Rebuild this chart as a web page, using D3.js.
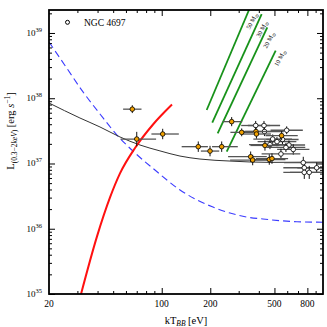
<!DOCTYPE html>
<html>
<head>
<meta charset="utf-8">
<script src="https://cdn.jsdelivr.net/npm/d3@7"></script>
<style>
  body { margin: 0; background: #fff; }
  svg text { font-family: "Liberation Serif", "DejaVu Serif", serif; fill: #000; }
</style>
</head>
<body>
<div id="chart"></div>
<script>
// kT [eV] and L [erg/s]
const blackCurveT = [20, 31.1, 41.4, 55.1, 73.3, 97.5, 129.8, 172.6, 265, 469, 1000];
const blackCurveL = [8.45e37, 4.98e37, 3.63e37, 2.55e37, 1.92e37, 1.56e37, 1.30e37, 1.17e37, 1.09e37, 1.04e37, 1.05e37];

const blueCurveT = [20, 25.5, 32.5, 41.4, 52.8, 68.3, 90.8, 129.8, 165.4, 207.8, 265, 337.8, 424.5, 541, 689.6, 1000];
const blueCurveL = [7.28e38, 3.01e38, 1.25e38, 5.74e37, 2.73e37, 1.45e37, 7.94e36, 3.93e36, 2.76e36, 2.15e36, 1.74e36, 1.51e36, 1.41e36, 1.33e36, 1.28e36, 1.26e36];

const redCurveT = [31.6, 39.7, 47.8, 55.1, 68.3, 88.3, 115.8];
const redCurveL = [1e35, 7.64e35, 3.02e36, 7.05e36, 1.73e37, 3.96e37, 8.0e37];

// mass tracks: [T0, L0, T1, L1]
const massLabels = ["50", "30", "20", "10"];
const massTracks = [
  [190, 6.6e37, 347.6, 2.25e39],
  [205.8, 4.22e37, 416.6, 1.95e39],
  [222.3, 2.9e37, 451.3, 1.22e39],
  [252.9, 1.52e37, 508.8, 5.36e38]
];
const massLabelT = [362.8, 418.4, 462.4, 541];
const massLabelL = [1.53e39, 1.15e39, 7.8e38, 4.14e38];

// orange (filled) sources: kT, L, kT error (dex, low/high), L error (dex)
const filledT  = [65.7, 70.0, 101.4, 168.5, 199.3, 235.4, 271.5, 313.2, 384, 386.7, 554, 436.6, 356, 366.4, 464.5, 482.6];
const filledL  = [6.8e37, 2.37e37, 2.83e37, 1.81e37, 1.55e37, 1.81e37, 4.38e37, 3.0e37, 3.09e37, 2.83e37, 2.67e37, 1.89e37, 1.27e37, 1.13e37, 1.15e37, 1.19e37];
const filledTLo = [0.057, 0.10, 0.07, 0.103, 0.057, 0.06, 0.055, 0.07, 0.09, 0.09, 0.10, 0.09, 0.14, 0.14, 0.10, 0.10];
const filledTHi = [0.057, 0.12, 0.10, 0.060, 0.057, 0.10, 0.065, 0.07, 0.09, 0.09, 0.10, 0.09, 0.10, 0.10, 0.10, 0.10];
const filledLErr = [0.06, 0.11, 0.08, 0.08, 0.08, 0.08, 0.07, 0.06, 0.07, 0.07, 0.07, 0.08, 0.08, 0.08, 0.08, 0.08];

// open sources
const openT = [382.5, 430.6, 433.6, 595.5, 487.5, 518.4, 560.5, 469, 615, 589, 654, 548.6, 754.6, 765.5, 913.5, 765.5, 821.6];
const openL = [3.82e37, 3.82e37, 3.09e37, 3.23e37, 2.37e37, 2.16e37, 2.33e37, 1.95e37, 1.92e37, 1.76e37, 1.64e37, 1.4e37, 1.03e37, 8.6e36, 8.6e36, 7.3e36, 7.3e36];
const openTErr = [0.09, 0.10, 0.12, 0.10, 0.12, 0.12, 0.10, 0.13, 0.10, 0.12, 0.10, 0.12, 0.12, 0.13, 0.12, 0.13, 0.12];
const openLErr = [0.07, 0.07, 0.07, 0.06, 0.07, 0.07, 0.07, 0.07, 0.07, 0.07, 0.08, 0.08, 0.09, 0.10, 0.08, 0.10, 0.10];

const xTickLabels = [20, 100, 200, 500, 800];
const xMajor = [100, 200, 500, 800];
const xMinor = [30, 40, 50, 60, 70, 80, 90, 300, 400, 600, 700, 900];
const yDecades = [35, 36, 37, 38, 39];

const width = 327, height = 327;
const margin = { top: 10, right: 4, bottom: 33, left: 49 };
const x0 = margin.left, x1 = width - margin.right;
const y0 = height - margin.bottom, y1 = margin.top;

const x = d3.scaleLog().domain([20, 1000]).range([x0, x1]);
const y = d3.scaleLog().domain([1e35, 2.25e39]).range([y0, y1]);

const svg = d3.select("#chart").append("svg")
  .attr("width", width).attr("height", height);

svg.append("defs").append("clipPath").attr("id", "clip")
  .append("rect").attr("x", x0).attr("y", y1)
  .attr("width", x1 - x0).attr("height", y0 - y1);

const plot = svg.append("g").attr("clip-path", "url(#clip)");
const line = d3.line().x(d => x(d[0])).y(d => y(d[1])).curve(d3.curveMonotoneX);

// model curves
plot.append("path")
  .datum(blueCurveT.map((t, i) => [t, blueCurveL[i]]))
  .attr("d", line).attr("fill", "none")
  .attr("stroke", "#3b3bff").attr("stroke-width", 1.1)
  .attr("stroke-dasharray", "7,4");

plot.append("path")
  .datum(blackCurveT.map((t, i) => [t, blackCurveL[i]]))
  .attr("d", line).attr("fill", "none")
  .attr("stroke", "#333").attr("stroke-width", 1);

plot.append("path")
  .datum(redCurveT.map((t, i) => [t, redCurveL[i]]))
  .attr("d", line).attr("fill", "none")
  .attr("stroke", "#ff1010").attr("stroke-width", 2);

// mass tracks
plot.selectAll(".track").data(massTracks).join("line")
  .attr("class", "track")
  .attr("x1", d => x(d[0])).attr("y1", d => y(d[1]))
  .attr("x2", d => x(d[2])).attr("y2", d => y(d[3]))
  .attr("stroke", "#17921a").attr("stroke-width", 1.8);

massLabels.forEach((m, i) => {
  const t = svg.append("text")
    .attr("transform", `translate(${x(massLabelT[i])},${y(massLabelL[i])}) rotate(-62)`)
    .attr("text-anchor", "middle")
    .attr("dy", "0.35em")
    .style("font-size", "6.3px");
  t.append("tspan").text(m + " M");
  t.append("tspan").attr("dy", "1.5").style("font-size", "4.7px").text("\u2299");
});

// error bars + points
function drawPoints(T, L, tLo, tHi, lErr, fill) {
  const g = plot.append("g");
  T.forEach((t, i) => {
    const px = x(t), py = y(L[i]);
    g.append("line")
      .attr("x1", x(t / Math.pow(10, tLo[i]))).attr("x2", x(t * Math.pow(10, tHi[i])))
      .attr("y1", py).attr("y2", py)
      .attr("stroke", "#555").attr("stroke-width", 1.3);
    g.append("line")
      .attr("x1", px).attr("x2", px)
      .attr("y1", y(L[i] / Math.pow(10, lErr[i]))).attr("y2", y(L[i] * Math.pow(10, lErr[i])))
      .attr("stroke", "#111").attr("stroke-width", 1);
  });
  g.selectAll("circle").data(T).join("circle")
    .attr("cx", d => x(d)).attr("cy", (d, i) => y(L[i]))
    .attr("r", 2.3)
    .attr("fill", fill).attr("stroke", "#000").attr("stroke-width", 0.8);
}
drawPoints(openT, openL, openTErr, openTErr, openLErr, "#fff");
drawPoints(filledT, filledL, filledTLo, filledTHi, filledLErr, "#f0a000");

// legend
svg.append("circle").attr("cx", 67.5).attr("cy", 22.3).attr("r", 2)
  .attr("fill", "#fff").attr("stroke", "#000").attr("stroke-width", 1);
svg.append("text").attr("x", 84).attr("y", 26).style("font-size", "9.5px").text("NGC 4697");

// axes (ticks inward)
const yMinor = [];
yDecades.forEach(e => { for (let k = 2; k <= 9; k++) yMinor.push(k * Math.pow(10, e)); });
const yMajor = yDecades.map(e => Math.pow(10, e));

function ticks(axisFn, vals, size, tr) {
  svg.append("g").attr("transform", tr)
    .call(axisFn.tickValues(vals).tickSize(size).tickFormat(""))
    .call(g => g.select(".domain").remove())
    .selectAll("line").attr("stroke", "#000").attr("stroke-width", 1);
}
ticks(d3.axisBottom(x), xMajor, -6, `translate(0,${y0})`);
ticks(d3.axisBottom(x), xMinor, -3, `translate(0,${y0})`);
ticks(d3.axisTop(x), xMajor, -6, `translate(0,${y1})`);
ticks(d3.axisTop(x), xMinor, -3, `translate(0,${y1})`);
ticks(d3.axisLeft(y), yMajor, -6, `translate(${x0},0)`);
ticks(d3.axisLeft(y), yMinor.filter(v => v < 2.25e39), -3, `translate(${x0},0)`);
ticks(d3.axisRight(y), yMajor, -6, `translate(${x1},0)`);
ticks(d3.axisRight(y), yMinor.filter(v => v < 2.25e39), -3, `translate(${x1},0)`);

svg.append("rect").attr("x", x0).attr("y", y1)
  .attr("width", x1 - x0).attr("height", y0 - y1)
  .attr("fill", "none").attr("stroke", "#000").attr("stroke-width", 1.8);

// tick labels
svg.selectAll(".xl").data(xTickLabels).join("text")
  .attr("x", d => x(d)).attr("y", 307)
  .attr("text-anchor", "middle").style("font-size", "9.5px").text(d => d);

yDecades.forEach(e => {
  const t = svg.append("text").attr("x", 42).attr("y", y(Math.pow(10, e)) + 3)
    .attr("text-anchor", "end").style("font-size", "9px");
  t.append("tspan").text("10");
  t.append("tspan").attr("dy", -4).style("font-size", "6.5px").text(e);
});

// axis titles
const xt = svg.append("text").attr("x", 186).attr("y", 323.5)
  .attr("text-anchor", "middle").style("font-size", "10.5px");
xt.append("tspan").text("kT");
xt.append("tspan").attr("dy", 2).style("font-size", "7.5px").style("font-style", "italic").text("BB");
xt.append("tspan").attr("dy", -2).text(" [eV]");

const yt = svg.append("text")
  .attr("transform", "translate(14,131) rotate(-90)")
  .attr("text-anchor", "middle").style("font-size", "10.5px");
yt.append("tspan").text("L");
yt.append("tspan").attr("dy", 2.5).style("font-size", "7.5px").text("(0.3\u22122");
yt.append("tspan").style("font-size", "7.5px").style("font-style", "italic").text("keV");
yt.append("tspan").style("font-size", "7.5px").text(")");
yt.append("tspan").attr("dy", -2.5).text(" [erg ");
yt.append("tspan").style("font-style", "italic").text("s");
yt.append("tspan").attr("dy", -4).style("font-size", "7.5px").text("\u22121");
yt.append("tspan").attr("dy", 4).text("]");
</script>
</body>
</html>
